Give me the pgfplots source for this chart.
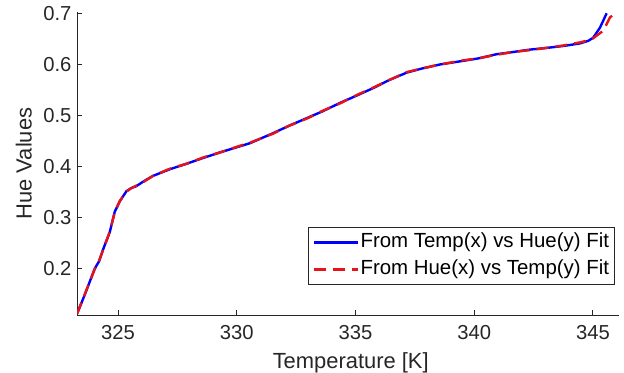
\documentclass[border=0pt]{standalone}
\usepackage{fontspec}
\setmainfont{Liberation Sans}
\usepackage{pgfplots}
\pgfplotsset{compat=1.18}
\definecolor{axgray}{RGB}{38,38,38}
\definecolor{mred}{rgb}{0.9,0.08,0.1}
\pgfplotsset{
  longleg/.style={legend image code/.code={\draw[##1] (0bp,0bp) -- (44bp,0bp);}},
  shortleg/.style={legend image code/.code={\draw[##1] (0bp,0bp) -- (31bp,0bp); \path (0bp,0bp) -- (44bp,0bp);}},
}
\begin{document}
\begin{tikzpicture}
\useasboundingbox (0,0) rectangle (624bp,373bp);
\begin{axis}[
  at={(77bp,58bp)}, anchor=south west,
  scale only axis, width=542bp, height=303bp,
  xmin=323.27, xmax=346.1, ymin=0.11, ymax=0.7025,
  axis x line*=bottom, axis y line*=left,
  axis line style={axgray, line width=1bp},
  tick align=inside, major tick length=5bp,
  tick style={axgray, line width=1bp},
  xtick={325,330,335,340,345},
  ytick={0.2,0.3,0.4,0.5,0.6,0.7},
  /pgf/number format/assume math mode=true,
  yticklabel style={/pgf/number format/fixed, /pgf/number format/precision=1, /pgf/number format/fixed zerofill, xshift=-2bp},
  xticklabel style={yshift=-6.5bp},
  ticklabel style={font=\fontsize{20.3}{24}\selectfont, text=axgray},
  xlabel={Temperature [K]}, ylabel={Hue Values},
  label style={font=\fontsize{22}{26}\selectfont, text=axgray},
  xlabel style={at={(axis description cs:0.505,-0.175)}, anchor=base},
  ylabel style={at={(axis description cs:-0.098,0.5)}, anchor=center, rotate=0},
  legend style={at={(0.9926,0.099)}, anchor=south east, draw=axgray, line width=0.9bp,
    fill=white, font=\fontsize{20.5}{24}\selectfont, inner xsep=4bp, inner ysep=5bp,
    row sep=7bp, nodes={inner xsep=1.5bp, inner ysep=0bp, text height=15bp, text depth=5bp}},
  legend cell align=left,
]
\addplot[blue, line width=2.4bp, longleg] coordinates {
(323.27,0.112) (323.6,0.150) (324.02,0.201) (324.2,0.215) (324.36,0.237)
(324.65,0.272) (324.86,0.312) (325.07,0.332) (325.35,0.352) (325.55,0.358)
(325.77,0.362) (326.1,0.372) (326.47,0.382) (327.18,0.395) (327.9,0.406)
(328.58,0.417) (329.3,0.428) (330.14,0.440) (330.56,0.446) (331.55,0.466)
(332.2,0.480) (332.95,0.495) (333.6,0.508) (334.36,0.525) (335.0,0.538)
(335.76,0.554) (336.4,0.569) (337.16,0.584) (337.8,0.592) (338.57,0.600)
(339.54,0.607) (340.2,0.612) (340.95,0.620) (341.6,0.624) (342.35,0.629)
(343.0,0.632) (343.75,0.636) (344.45,0.641) (344.8,0.646) (345.01,0.652)
(345.3,0.672) (345.58,0.700)
};
\addlegendentry{From Temp(x) vs Hue(y) Fit}
\addplot[mred, line width=2.4bp, dash pattern=on 12bp off 7bp, shortleg] coordinates {
(323.27,0.112) (323.6,0.151) (324.02,0.200) (324.2,0.216) (324.36,0.236)
(324.65,0.273) (324.86,0.311) (325.07,0.333) (325.35,0.351) (325.55,0.358)
(325.77,0.363) (326.1,0.371) (326.47,0.382) (327.18,0.396) (327.9,0.406)
(328.58,0.418) (329.3,0.428) (330.14,0.441) (330.56,0.447) (331.55,0.465)
(332.2,0.480) (332.95,0.494) (333.6,0.509) (334.36,0.524) (335.0,0.539)
(335.76,0.555) (336.4,0.569) (337.16,0.585) (337.8,0.592) (338.57,0.600)
(339.54,0.608) (340.2,0.612) (340.95,0.619) (341.6,0.624) (342.35,0.628)
(343.0,0.632) (343.75,0.637) (344.45,0.643) (344.8,0.647) (345.01,0.651)
(345.44,0.666) (345.72,0.692) (345.95,0.700)
};
\addlegendentry{From Hue(x) vs Temp(y) Fit}
\end{axis}
\end{tikzpicture}
\end{document}
